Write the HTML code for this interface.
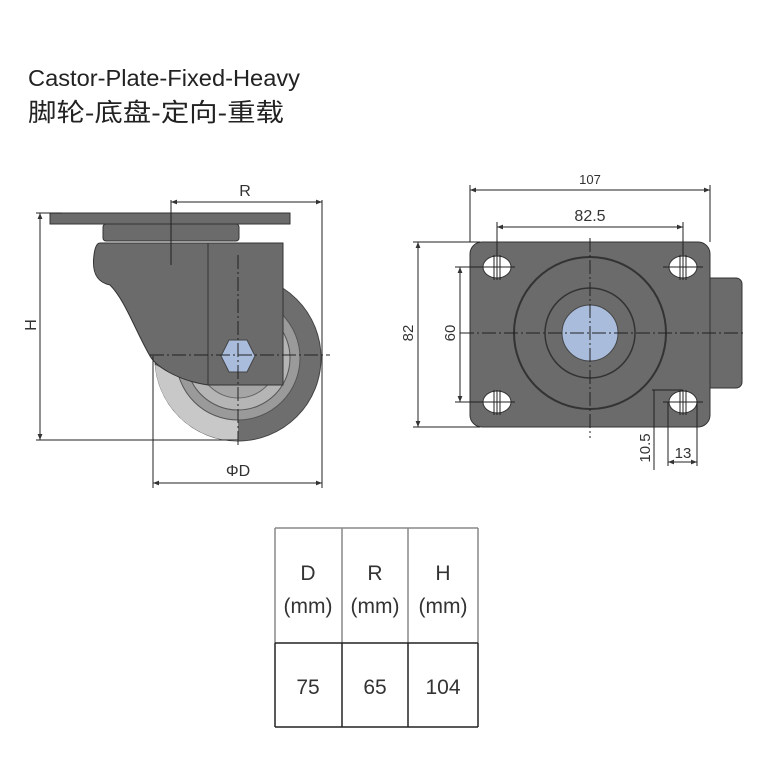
<!DOCTYPE html>
<html><head><meta charset="utf-8"><style>
html,body{margin:0;padding:0;background:#fff;}
svg{display:block;}
text{font-family:"Liberation Sans","Noto Sans CJK SC",sans-serif;}
</style></head><body>
<svg width="768" height="768" viewBox="0 0 768 768" xmlns="http://www.w3.org/2000/svg">
<defs>
<marker id="a" viewBox="0 0 10 10" refX="10" refY="5" markerWidth="9" markerHeight="6" orient="auto-start-reverse" markerUnits="userSpaceOnUse"><path d="M0,1 L10,5 L0,9 z" fill="#333"/></marker>
</defs>
<text x="28" y="86" font-size="23" fill="#222" textLength="272" lengthAdjust="spacingAndGlyphs">Castor-Plate-Fixed-Heavy</text>
<text x="28" y="121" font-size="25" fill="#222" textLength="256" lengthAdjust="spacingAndGlyphs">脚轮-底盘-定向-重载</text>

<!-- side view -->
<circle cx="238" cy="358" r="83" fill="#6e6e6e" stroke="#444"/>
<path d="M155,365 A83,83 0 0 0 238,441 L238,400 Z" fill="#c8c8c8"/>
<circle cx="238" cy="358" r="62" fill="#9a9a9a" stroke="#555"/>
<circle cx="238" cy="358" r="52" fill="#b5b5b5" stroke="#555"/>
<circle cx="238" cy="358" r="40" fill="#a5a5a5" stroke="#666"/>
<rect x="50" y="213" width="240" height="11" fill="#6b6b6b" stroke="#333"/>
<rect x="103" y="224" width="136" height="17" rx="3" fill="#6b6b6b" stroke="#333"/>
<path d="M100,243 L283,243 L283,385 L208,385 C175,380 155,365 150,356 C135,330 125,300 110,285 C95,282 92,270 94,255 C95,247 97,243 100,243 Z" fill="#6b6b6b" stroke="#333"/>
<line x1="208" y1="243" x2="208" y2="385" stroke="#333"/>
<polygon points="229,340 247,340 255,356 247,372 229,372 221,356" fill="#a9bcdc" stroke="#444"/>
<g stroke="#222" stroke-width="1" fill="none">
<line x1="238" y1="255" x2="238" y2="445" stroke-dasharray="14,3,2,3"/>
<line x1="150" y1="355" x2="330" y2="355" stroke-dasharray="14,3,2,3"/>
<line x1="171" y1="200" x2="171" y2="265"/>
<line x1="322" y1="200" x2="322" y2="488"/>
<line x1="153" y1="356" x2="153" y2="488"/>
<line x1="171" y1="202" x2="322" y2="202" marker-start="url(#a)" marker-end="url(#a)"/>
<line x1="36" y1="213" x2="62" y2="213"/>
<line x1="36" y1="440" x2="238" y2="440"/>
<line x1="40" y1="213" x2="40" y2="440" marker-start="url(#a)" marker-end="url(#a)"/>
<line x1="153" y1="483" x2="322" y2="483" marker-start="url(#a)" marker-end="url(#a)"/>
</g>
<text x="245" y="196" font-size="16" fill="#333" text-anchor="middle">R</text>
<text x="30" y="325" font-size="16" fill="#333" text-anchor="middle" transform="rotate(-90 30 325)" dy="6">H</text>
<text x="238" y="476" font-size="16" fill="#333" text-anchor="middle">ΦD</text>

<!-- top view -->
<rect x="705" y="278" width="37" height="110" rx="6" fill="#6b6b6b" stroke="#333"/>
<rect x="470" y="242" width="240" height="185" rx="12" fill="#6b6b6b" stroke="#333"/>
<circle cx="590" cy="333" r="76" fill="none" stroke="#333" stroke-width="2"/>
<circle cx="590" cy="333" r="45" fill="none" stroke="#333" stroke-width="1.5"/>
<circle cx="590" cy="333" r="28" fill="#a9bcdc" stroke="#444"/>
<g fill="#fff" stroke="#333">
<ellipse cx="497" cy="267" rx="14" ry="11"/><ellipse cx="683" cy="267" rx="14" ry="11"/>
<ellipse cx="497" cy="402" rx="14" ry="11"/><ellipse cx="683" cy="402" rx="14" ry="11"/>
</g>
<g stroke="#222" stroke-width="1" fill="none">
<line x1="590" y1="238" x2="590" y2="438" stroke-dasharray="14,3,2,3"/>
<line x1="460" y1="333" x2="745" y2="333" stroke-dasharray="14,3,2,3"/>
<line x1="470" y1="185" x2="470" y2="242"/>
<line x1="710" y1="185" x2="710" y2="242"/>
<line x1="470" y1="190" x2="710" y2="190" marker-start="url(#a)" marker-end="url(#a)"/>
<line x1="497" y1="222" x2="497" y2="280"/><line x1="494" y1="255" x2="494" y2="280"/><line x1="500" y1="255" x2="500" y2="280"/>
<line x1="683" y1="222" x2="683" y2="280"/><line x1="680" y1="255" x2="680" y2="280"/><line x1="686" y1="255" x2="686" y2="280"/>
<line x1="494" y1="390" x2="494" y2="415"/><line x1="497" y1="390" x2="497" y2="415"/><line x1="500" y1="390" x2="500" y2="415"/>
<line x1="680" y1="390" x2="680" y2="415"/><line x1="683" y1="390" x2="683" y2="415"/><line x1="686" y1="390" x2="686" y2="415"/>
<line x1="497" y1="227" x2="683" y2="227" marker-start="url(#a)" marker-end="url(#a)"/>
<line x1="413" y1="242" x2="480" y2="242"/>
<line x1="413" y1="427" x2="480" y2="427"/>
<line x1="418" y1="242" x2="418" y2="427" marker-start="url(#a)" marker-end="url(#a)"/>
<line x1="455" y1="267" x2="515" y2="267"/>
<line x1="455" y1="402" x2="515" y2="402"/>
<line x1="460" y1="267" x2="460" y2="402" marker-start="url(#a)" marker-end="url(#a)"/>
<line x1="663" y1="267" x2="703" y2="267"/>
<line x1="663" y1="402" x2="703" y2="402"/>
<line x1="654" y1="390" x2="654" y2="470"/>
<line x1="652" y1="390" x2="683" y2="390"/>
<line x1="668" y1="402" x2="668" y2="466"/>
<line x1="697" y1="402" x2="697" y2="466"/>
<line x1="668" y1="462" x2="697" y2="462" marker-start="url(#a)" marker-end="url(#a)"/>
</g>
<text x="590" y="184" font-size="13" fill="#333" text-anchor="middle">107</text>
<text x="590" y="221" font-size="16" fill="#333" text-anchor="middle">82.5</text>
<text transform="translate(413,333) rotate(-90)" font-size="15" fill="#333" text-anchor="middle">82</text>
<text transform="translate(455,333) rotate(-90)" font-size="15" fill="#333" text-anchor="middle">60</text>
<text transform="translate(650,448) rotate(-90)" font-size="15" fill="#333" text-anchor="middle">10.5</text>
<text x="683" y="458" font-size="15" fill="#333" text-anchor="middle">13</text>

<!-- table -->
<g stroke-width="1.5" fill="none">
<line x1="275" y1="528" x2="478" y2="528" stroke="#888"/>
<line x1="275" y1="528" x2="275" y2="643" stroke="#888"/>
<line x1="342" y1="528" x2="342" y2="643" stroke="#888"/>
<line x1="408" y1="528" x2="408" y2="643" stroke="#888"/>
<line x1="478" y1="528" x2="478" y2="643" stroke="#888"/>
<line x1="275" y1="643" x2="478" y2="643" stroke="#222"/>
<line x1="275" y1="643" x2="275" y2="727" stroke="#222"/>
<line x1="342" y1="643" x2="342" y2="727" stroke="#222"/>
<line x1="408" y1="643" x2="408" y2="727" stroke="#222"/>
<line x1="478" y1="643" x2="478" y2="727" stroke="#222"/>
<line x1="275" y1="727" x2="478" y2="727" stroke="#222"/>
</g>
<g font-size="21" fill="#333" text-anchor="middle">
<text x="308" y="580">D</text><text x="375" y="580">R</text><text x="443" y="580">H</text>
<text x="308" y="613">(mm)</text><text x="375" y="613">(mm)</text><text x="443" y="613">(mm)</text>
<text x="308" y="694">75</text><text x="375" y="694">65</text><text x="443" y="694">104</text>
</g>
</svg>
</body></html>
